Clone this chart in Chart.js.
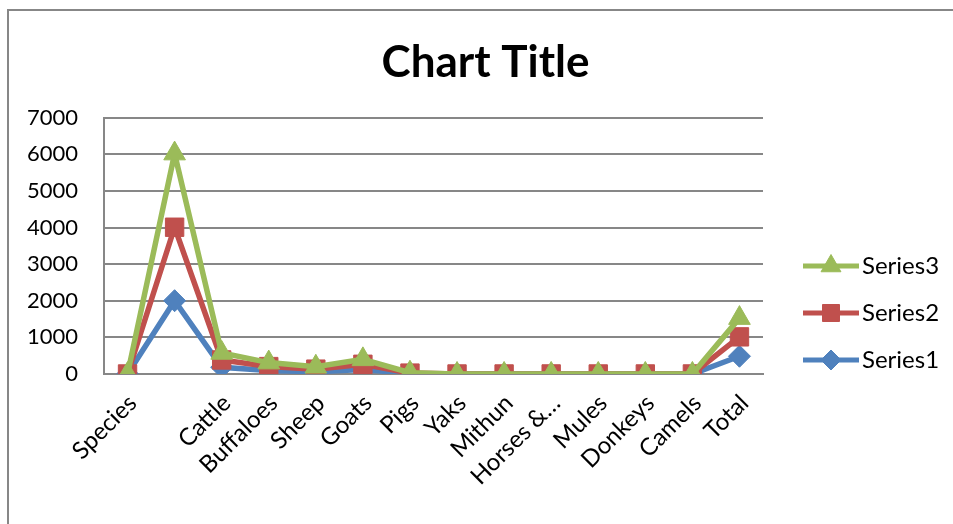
<!DOCTYPE html>
<html>
<head>
<meta charset="utf-8">
<script src="https://cdn.jsdelivr.net/npm/chart.js@4.4.1/dist/chart.umd.min.js"></script>
<style>
  html, body { margin: 0; padding: 0; background: #fff; }
  #wrap { position: relative; width: 953px; height: 524px; }
</style>
</head>
<body>
<div id="wrap"><canvas id="c"></canvas></div>
<script>
// ---- data ----
const categories = ['Species', '', 'Cattle', 'Buffaloes', 'Sheep', 'Goats', 'Pigs', 'Yaks', 'Mithun', 'Horses &…', 'Mules', 'Donkeys', 'Camels', 'Total'];
const series1 = [0, 2003, 185, 98, 61, 124, 14, 0.1, 0.3, 0.8, 0.2, 0.4, 0.5, 485];
const series2 = [0, 4010, 384, 203, 133, 265, 25, 0.2, 0.6, 1.4, 0.4, 0.8, 0.9, 1015];
const series3 = [0, 6022, 575, 312, 198, 400, 35, 0.3, 0.9, 2.0, 0.6, 1.1, 1.3, 1527];
const seriesNames = ['Series1', 'Series2', 'Series3'];
const yTicks = [0, 1000, 2000, 3000, 4000, 5000, 6000, 7000];

const colors = ['#4F81BD', '#C0504D', '#9BBB59'];
const styles = ['rectRot', 'rect', 'triangle'];
const radii = [11, 13, 12.5];
const FONT = 'Lato, "Open Sans", sans-serif';
const legendFontSize = 24;
const GRID = '#878787';

function legendIcon(i) {
  const c = document.createElement('canvas');
  c.width = 84; c.height = 28;
  const g = c.getContext('2d');
  g.strokeStyle = colors[i];
  g.lineWidth = 5;
  g.beginPath(); g.moveTo(27, 14); g.lineTo(83, 14); g.stroke();
  g.fillStyle = colors[i];
  g.strokeStyle = colors[i];
  g.lineWidth = 1;
  Chart.helpers.drawPoint(g, {pointStyle: styles[i], radius: radii[i] - 1, borderWidth: 1, rotation: 0}, 55, 14);
  return c;
}
const icons = [0, 1, 2].map(legendIcon);

// legend width so that plot area ends where the reference's does
const mctx = document.createElement('canvas').getContext('2d');
mctx.font = legendFontSize + 'px ' + FONT;
const textW = Math.max(...seriesNames.map(s => mctx.measureText(s).width));
const legendPad = 23, boxW = 64;
const legendWidth = legendPad + boxW + legendFontSize / 2 + textW + 10;
const rightPad = Math.max(0, 953 - 763 - legendWidth);

const framePlugin = {
  id: 'frame',
  beforeDraw(chart) {
    const ctx = chart.ctx;
    ctx.save();
    ctx.fillStyle = '#fff';
    ctx.fillRect(0, 0, chart.width, chart.height);
    ctx.strokeStyle = GRID;
    ctx.lineWidth = 2;
    ctx.strokeRect(8, 10, 2000, 2000);
    ctx.restore();
  }
};

const datasets = [series1, series2, series3].map((d, i) => ({
  label: seriesNames[i],
  data: d,
  borderColor: colors[i],
  backgroundColor: colors[i],
  borderWidth: 5.5,
  pointStyle: styles[i],
  pointRadius: radii[i],
  pointHoverRadius: radii[i],
  pointBorderWidth: 1,
  pointBackgroundColor: colors[i],
  pointBorderColor: colors[i],
  tension: 0,
  order: 2 - i
}));

new Chart(document.getElementById('c'), {
  type: 'line',
  data: { labels: categories, datasets },
  plugins: [framePlugin],
  options: {
    responsive: true,
    maintainAspectRatio: false,
    animation: false,
    layout: { padding: { left: 22, right: rightPad, top: 0, bottom: 20 } },
    plugins: {
      title: {
        display: true,
        text: 'Chart Title',
        color: '#000',
        font: { family: FONT, size: 44, weight: 'bold' },
        padding: { top: 36, bottom: 29 }
      },
      legend: {
        display: true,
        position: 'right',
        title: {
          display: true,
          text: ' ',
          font: { family: FONT, size: 10 },
          padding: { top: 110, bottom: 0 }
        },
        labels: {
          usePointStyle: true,
          pointStyleWidth: boxW,
          padding: legendPad,
          color: '#000',
          font: { family: FONT, size: legendFontSize },
          generateLabels(chart) {
            const items = Chart.defaults.plugins.legend.labels.generateLabels(chart);
            items.forEach(it => { it.pointStyle = icons[it.datasetIndex]; });
            return items;
          }
        }
      },
      tooltip: { enabled: false }
    },
    scales: {
      x: {
        type: 'category',
        offset: true,
        grid: { display: false, drawTicks: false },
        border: { display: true, color: GRID, width: 2 },
        ticks: {
          color: '#000',
          font: { family: FONT, size: 24 },
          minRotation: 45,
          maxRotation: 45,
          autoSkip: false,
          padding: 15,
          labelOffset: 5
        },
        afterFit(scale) { scale.height = 130; }
      },
      y: {
        min: 0,
        max: 7000,
        afterBuildTicks(scale) { scale.ticks = yTicks.map(v => ({ value: v })); },
        grid: { color: GRID, lineWidth: 2, drawTicks: false },
        border: { display: true, color: GRID, width: 2 },
        ticks: {
          color: '#000',
          font: { family: FONT, size: 22 },
          padding: 26,
          callback: (v) => String(v)
        },
        afterFit(scale) { scale.width = 82; }
      }
    }
  }
});
</script>
</body>
</html>
